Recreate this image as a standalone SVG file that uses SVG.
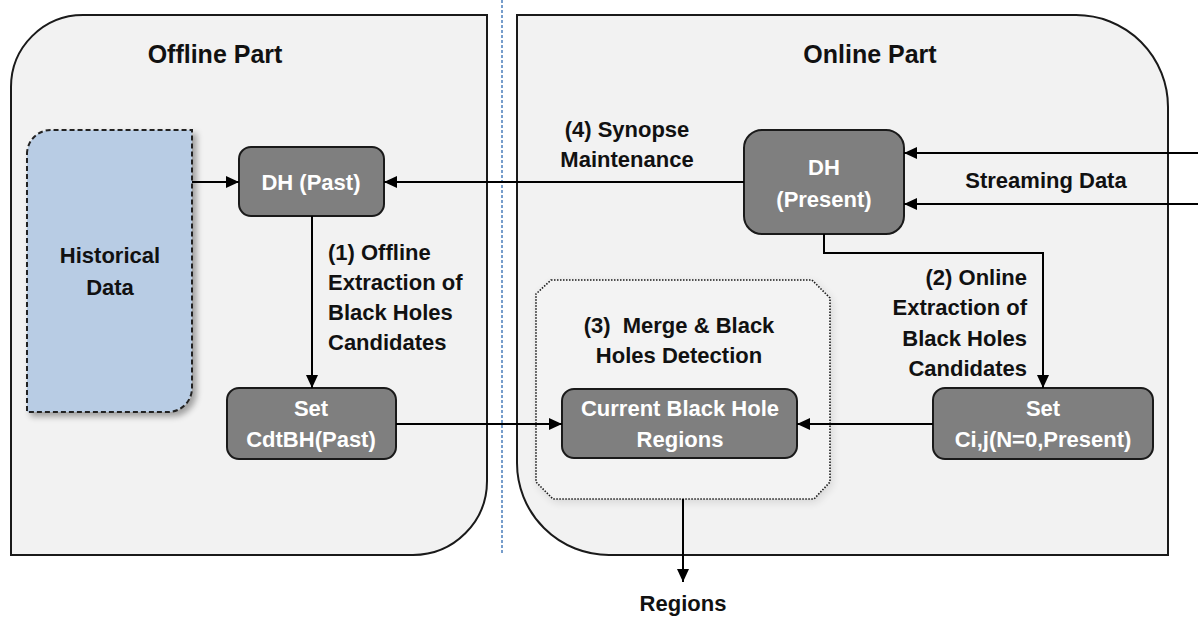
<svg xmlns="http://www.w3.org/2000/svg" width="1198" height="618" viewBox="0 0 1198 618">
  <style>
    .panel { fill: #f2f2f2; stroke: #1a1a1a; stroke-width: 2; }
    .box { fill: #7f7f7f; stroke: #1a1a1a; stroke-width: 2; }
    .boxtxt { font-family: "Liberation Sans", Arial, sans-serif; font-weight: bold; font-size: 22px; fill: #ffffff; text-anchor: middle; }
    .lbl { font-family: "Liberation Sans", Arial, sans-serif; font-weight: bold; font-size: 22px; fill: #111111; }
    .title { font-family: "Liberation Sans", Arial, sans-serif; font-weight: bold; font-size: 25px; fill: #111111; text-anchor: middle; }
    .conn { fill: none; stroke: #000000; stroke-width: 2; marker-end: url(#arrow); }
  </style>
  <defs>
    <marker id="arrow" markerUnits="userSpaceOnUse" markerWidth="13" markerHeight="12" refX="13" refY="6" orient="auto">
      <path d="M0,0 L13,6 L0,12 Z" fill="#000000"/>
    </marker>
    <filter id="shadow" x="-10%" y="-10%" width="130%" height="130%">
      <feGaussianBlur in="SourceAlpha" stdDeviation="3"/>
      <feOffset dx="4" dy="4" result="b"/>
      <feComponentTransfer><feFuncA type="linear" slope="0.35"/></feComponentTransfer>
      <feMerge><feMergeNode/><feMergeNode in="SourceGraphic"/></feMerge>
    </filter>
    <filter id="softshadow" x="-10%" y="-10%" width="130%" height="130%">
      <feGaussianBlur in="SourceAlpha" stdDeviation="4"/>
      <feOffset dx="2" dy="3" result="b"/>
      <feComponentTransfer><feFuncA type="linear" slope="0.12"/></feComponentTransfer>
      <feMerge><feMergeNode/><feMergeNode in="SourceGraphic"/></feMerge>
    </filter>
  </defs>

  <rect width="1198" height="618" fill="#ffffff"/>

  <!-- offline / online containers -->
  <g id="offline-part">
    <path class="panel" d="M11,87 A72,72 0 0 1 83,15 L487,15 L487,481 A74,74 0 0 1 413,555 L11,555 Z"/>
    <text class="title" x="215" y="63">Offline Part</text>
  </g>
  <g id="online-part">
    <path class="panel" d="M517,15 L1076,15 A92,92 0 0 1 1168,107 L1168,555 L609,555 A92,92 0 0 1 517,463 Z"/>
    <text class="title" x="870" y="63">Online Part</text>
  </g>

  <!-- separator between the two parts -->
  <line x1="502" y1="0" x2="502" y2="555" stroke="#4a7ebb" stroke-width="1.5" stroke-dasharray="3 2"/>

  <g id="merge-region">
    <path d="M551,280 L812,280 L830,298 L830,482 L814,499 L553,499 L536,482 L536,294 Z" fill="#f3f3f3" stroke="#1a1a1a" stroke-width="1.6" stroke-dasharray="1.5 1.5" filter="url(#softshadow)"/>
    <text class="lbl" x="679" y="333" text-anchor="middle" style="white-space:pre">(3)  Merge &amp; Black</text>
    <text class="lbl" x="679" y="363" text-anchor="middle">Holes Detection</text>
  </g>

  <g id="historical-data">
    <path d="M27,154 A24,24 0 0 1 51,130 L192,130 L192,388 A24,24 0 0 1 168,412 L27,412 Z" fill="#b8cce4" stroke="#222222" stroke-width="2" stroke-dasharray="5 3" filter="url(#shadow)"/>
    <text class="lbl" x="110" y="263" text-anchor="middle">Historical</text>
    <text class="lbl" x="110" y="295" text-anchor="middle">Data</text>
  </g>

  <g id="dh-past">
    <rect class="box" x="239" y="147" width="145" height="69" rx="12"/>
    <text class="boxtxt" x="311" y="190">DH (Past)</text>
  </g>

  <g id="set-cdtbh-past">
    <rect class="box" x="227" y="388" width="169" height="71" rx="12"/>
    <text class="boxtxt" x="311" y="416">Set</text>
    <text class="boxtxt" x="311" y="447">CdtBH(Past)</text>
  </g>

  <g id="dh-present">
    <rect class="box" x="744" y="130" width="160" height="104" rx="18"/>
    <text class="boxtxt" x="824" y="175">DH</text>
    <text class="boxtxt" x="824" y="207">(Present)</text>
  </g>

  <g id="set-cij-present">
    <rect class="box" x="933" y="388" width="220" height="71" rx="12"/>
    <text class="boxtxt" x="1043" y="416">Set</text>
    <text class="boxtxt" x="1043" y="447">Ci,j(N=0,Present)</text>
  </g>

  <g id="current-black-hole-regions">
    <rect class="box" x="562" y="389" width="235" height="69" rx="12"/>
    <text class="boxtxt" x="680" y="416">Current Black Hole</text>
    <text class="boxtxt" x="680" y="447">Regions</text>
  </g>

  <g id="connectors">
    <path class="conn" d="M192,182 L239,182"/>
    <path class="conn" d="M744,182 L384,182"/>
    <path class="conn" d="M312,216 L312,388"/>
    <path class="conn" d="M396,424 L562,424"/>
    <path class="conn" d="M1198,153 L904,153"/>
    <path class="conn" d="M1198,204 L904,204"/>
    <path class="conn" d="M824,234 L824,253 L1043,253 L1043,388"/>
    <path class="conn" d="M933,424 L797,424"/>
    <path class="conn" d="M683,499 L683,582"/>
  </g>

  <g id="connector-labels">
    <text class="lbl" x="328" y="260">(1) Offline</text>
    <text class="lbl" x="328" y="290">Extraction of</text>
    <text class="lbl" x="328" y="320">Black Holes</text>
    <text class="lbl" x="328" y="350">Candidates</text>

    <text class="lbl" x="1027" y="285" text-anchor="end">(2) Online</text>
    <text class="lbl" x="1027" y="315" text-anchor="end">Extraction of</text>
    <text class="lbl" x="1027" y="346" text-anchor="end">Black Holes</text>
    <text class="lbl" x="1027" y="376" text-anchor="end">Candidates</text>

    <text class="lbl" x="627" y="137" text-anchor="middle">(4) Synopse</text>
    <text class="lbl" x="627" y="167" text-anchor="middle">Maintenance</text>

    <text class="lbl" x="1046" y="188" text-anchor="middle">Streaming Data</text>

    <text class="lbl" x="683" y="611" text-anchor="middle">Regions</text>
  </g>
</svg>
